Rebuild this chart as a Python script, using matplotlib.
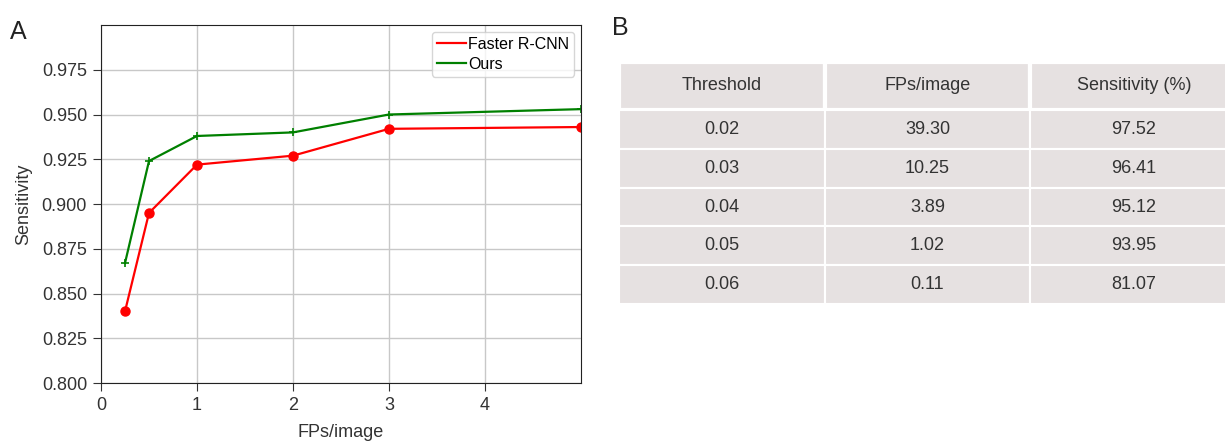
import matplotlib
matplotlib.use("Agg")
import matplotlib.pyplot as plt

plt.rcParams['font.family'] = ['Liberation Sans', 'DejaVu Sans']

# FROC curve data
fps = [0.25, 0.5, 1, 2, 3, 5]
sens_frcnn = [0.840, 0.895, 0.922, 0.927, 0.942, 0.943]
sens_ours = [0.867, 0.924, 0.938, 0.940, 0.950, 0.953]

# table data
col_labels = ["Threshold", "FPs/image", "Sensitivity (%)"]
thresholds = ["0.02", "0.03", "0.04", "0.05", "0.06"]
fps_per_image = ["39.30", "10.25", "3.89", "1.02", "0.11"]
sensitivity_pct = ["97.52", "96.41", "95.12", "93.95", "81.07"]

W, H = 1225, 444
fig = plt.figure(figsize=(W / 100, H / 100), dpi=100)

# panel A
ax = fig.add_axes([101 / W, 1 - 383 / H, 480 / W, 358 / H])
ax.plot(fps, sens_frcnn, color='red', lw=1.6, label='Faster R-CNN')
ax.plot(fps, sens_frcnn, color='red', ls='none', marker='o', ms=6.5)
ax.plot(fps, sens_ours, color='green', lw=1.6, label='Ours')
ax.plot(fps, sens_ours, color='green', ls='none', marker='+', ms=6, mew=1.2)
ax.set_xlim(0, 5)
ax.set_ylim(0.8, 1.0)
ax.set_xticks([0, 1, 2, 3, 4])
ax.set_yticks([0.800, 0.825, 0.850, 0.875, 0.900, 0.925, 0.950, 0.975])
ax.set_yticklabels(['%.3f' % v for v in ax.get_yticks()])
ax.grid(True, color='#c8c8c8', lw=1)
ax.set_axisbelow(True)
ax.tick_params(labelsize=13, length=6, pad=4, color='#333333', labelcolor='#333333')
ax.set_xlabel('FPs/image', fontsize=13, color='#333333', labelpad=7)
ax.set_ylabel('Sensitivity', fontsize=13, color='#333333', labelpad=7)
for s in ax.spines.values():
    s.set_color('#222222')
ax.legend(loc='upper right', fontsize=11.5, handlelength=1.8, handletextpad=0.15,
          borderaxespad=0.45, borderpad=0.3, labelspacing=0.3, fancybox=True, framealpha=0.8)
fig.text(10 / W, 1 - 32 / H, 'A', fontsize=18, color='#222222', va='center')

# panel B
fig.text(612 / W, 1 - 28 / H, 'B', fontsize=18, color='#222222', va='center')
tax = fig.add_axes([619 / W, 1 - 304 / H, 606 / W, 242 / H])
tax.axis('off')
rows = [list(r) for r in zip(thresholds, fps_per_image, sensitivity_pct)]
tbl = tax.table(cellText=rows, colLabels=col_labels, cellLoc='center',
                bbox=[0, 0, 1.02, 1], colWidths=[206, 206, 207])
tbl.auto_set_font_size(False)
for (r, c), cell in tbl.get_celld().items():
    cell.set_facecolor('#e6e1e1')
    cell.set_edgecolor('white')
    cell.set_linewidth(3 if r == 0 else 1.5)
    cell.get_text().set_fontsize(13)
    cell.get_text().set_color('#333333')
# header row slightly taller
hh = 48 / 242
rh = (1 - hh) / 5
for (r, c), cell in tbl.get_celld().items():
    if r == 0:
        cell.set_y(1 - hh)
        cell.set_height(hh)
    else:
        cell.set_y(1 - hh - r * rh)
        cell.set_height(rh)

fig.savefig('out.png', dpi=100)
